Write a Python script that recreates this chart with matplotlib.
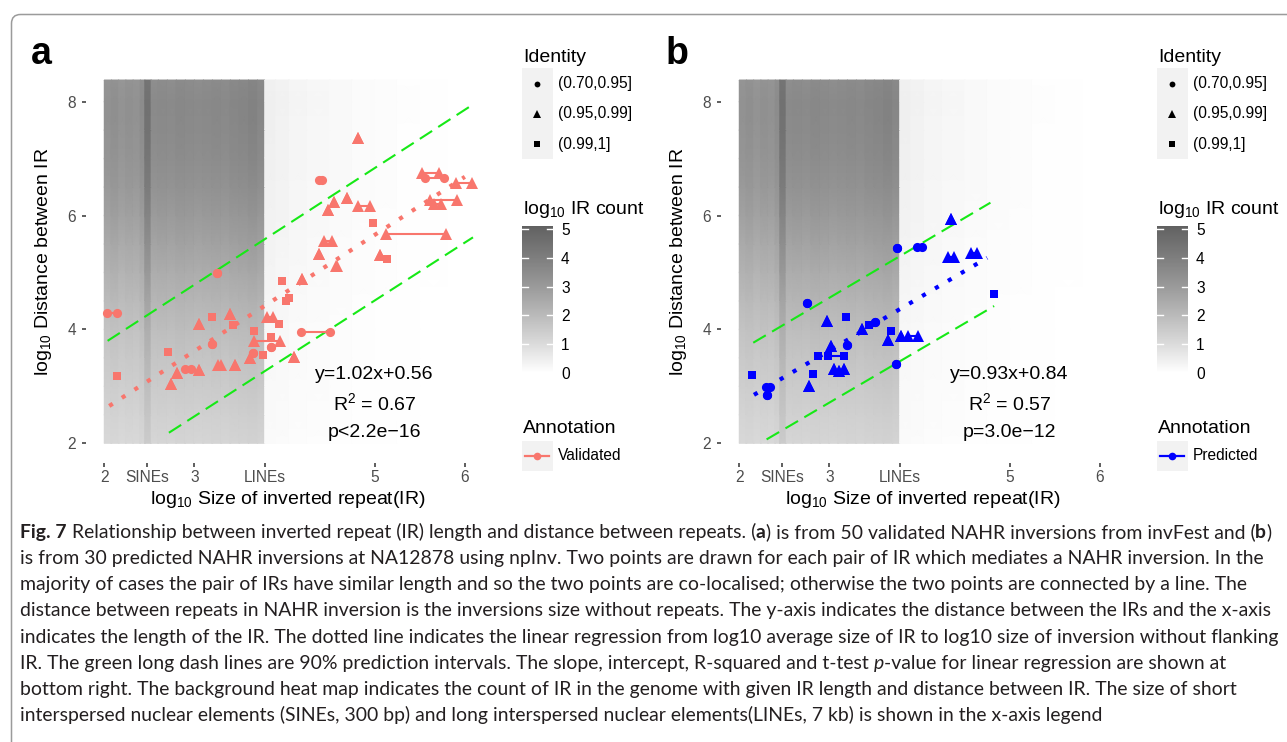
import matplotlib
matplotlib.use('Agg')
import matplotlib.pyplot as plt
import numpy as np
from matplotlib.colors import LinearSegmentedColormap
from matplotlib.patches import FancyBboxPatch, Rectangle

W, H = 1287, 742
plt.rcParams['font.family'] = ['Liberation Sans', 'DejaVu Sans']
plt.rcParams['mathtext.fontset'] = 'custom'
plt.rcParams['mathtext.rm'] = 'Liberation Sans'
plt.rcParams['mathtext.it'] = 'Liberation Sans:italic'
plt.rcParams['mathtext.bf'] = 'Liberation Sans:bold'

# ---------------- data ----------------
x_tick_pos = [2, 2.477, 3, 3.778, 5, 6]
x_tick_lab = ['2', 'SINEs', '3', 'LINEs', '5', '6']
y_ticks = [2, 4, 6, 8]

# background heat map (log10 IR count): column level at the top rows x row fade factor
heat_x_edges = [2.00, 2.08, 2.16, 2.24, 2.32, 2.40, 2.45, 2.52, 2.60, 2.70, 2.80, 2.90,
                3.00, 3.10, 3.20, 3.30, 3.40, 3.50, 3.60, 3.70, 3.78, 3.90, 4.05, 4.25,
                4.50, 4.75, 5.00, 5.25, 5.50, 5.80]
heat_col_level = [3.30, 3.40, 3.25, 3.35, 3.30, 3.50, 4.50, 3.55, 3.60, 3.55, 3.65, 3.60,
                  3.55, 3.60, 3.65, 3.60, 3.70, 3.75, 3.85, 3.70, 0.45, 0.38, 0.30, 0.24,
                  0.18, 0.13, 0.09, 0.06, 0.03]
heat_y_nodes = [2.0, 2.5, 3.0, 3.5, 4.0, 4.5, 5.0, 5.5, 6.0, 6.5, 7.0, 7.5, 8.0, 8.38]
heat_row_fade = [0.33, 0.37, 0.42, 0.47, 0.53, 0.60, 0.68, 0.76, 0.84, 0.91, 0.96, 0.99, 1.0, 0.97]
cbar_ticks = [0, 1, 2, 3, 4, 5]
cbar_gray = ['#ffffff', '#dbdbdb', '#bababa', '#9a9a9a', '#7e7e7e', '#646464']
VMAX = 5.1

identity_labels = ['(0.70,0.95]', '(0.95,0.99]', '(0.99,1]']

# panel a: validated (pair of IR: x1, x2 = log10 size of each IR, y = log10 distance)
a_x1 = [2.033, 2.144, 2.71, 2.735, 2.81, 2.90, 3.05, 3.05, 3.19, 3.245, 3.20, 3.26, 3.39, 3.43,
        3.45, 3.66, 3.656, 3.855, 3.645, 3.615, 3.76, 3.845, 3.81, 3.94, 3.975, 4.02, 4.05,
        4.11, 4.195, 4.177, 4.384, 4.44, 4.57, 4.477, 4.546, 4.694, 4.38, 4.816, 4.816,
        4.98, 5.064, 5.131, 5.12, 5.53, 5.563, 5.61, 5.655, 5.907]
a_x2 = [2.144, 2.144, 2.71, 2.735, 2.81, 2.96, 3.05, 3.05, 3.19, 3.245, 3.20, 3.30, 3.39, 3.43,
        3.45, 3.66, 3.948, 3.855, 3.645, 3.615, 3.76, 3.845, 3.874, 3.94, 3.975, 4.02, 4.05,
        4.11, 4.195, 4.502, 4.384, 4.53, 4.585, 4.477, 4.546, 4.694, 4.41, 4.816, 4.946,
        4.98, 5.064, 5.131, 5.796, 5.714, 5.766, 5.918, 5.733, 6.084]
a_y = [4.29, 3.19, 3.60, 3.04, 3.24, 3.30, 3.29, 4.09, 4.22, 5.00, 3.74, 3.37, 4.28, 4.07,
       3.37, 3.97, 3.80, 3.86, 3.58, 3.49, 3.56, 3.686, 4.21, 4.09, 4.85, 4.50, 4.56,
       3.52, 4.88, 3.95, 5.325, 5.553, 5.12, 6.10, 6.233, 6.31, 6.62, 7.357, 6.168,
       5.864, 5.30, 5.23, 5.676, 6.742, 6.66, 6.273, 6.20, 6.577]
a_shape = ['o', 's', 's', '^', '^', 'o', '^', '^', 's', 'o', 'o', '^', '^', 's',
           '^', 's', '^', 's', 'o', '^', 's', 'o', '^', 's', 's', 's', 's',
           '^', '^', 'o', '^', '^', '^', '^', '^', '^', 'o', '^', '^',
           's', '^', 's', '^', '^', 'o', '^', '^', '^']
a_fit = (1.02, 0.56)
a_fit_x = [2.055, 6.0]
a_pi_up = [(2.037, 3.80), (6.09, 7.95)]
a_pi_lo = [(2.717, 2.186), (6.09, 5.617)]
a_text = ['y=1.02x+0.56', 'R$^{2}$ = 0.67', 'p<2.2e\u221216']

# panel b: predicted
b_x1 = [2.144, 2.30, 2.304, 2.754, 2.77, 2.82, 2.969, 3.186, 3.02, 2.876, 2.987, 3.20, 3.05,
        3.105, 3.16, 3.357, 3.44, 3.51, 3.65, 3.68, 3.737, 3.79, 3.874, 3.75, 3.967, 4.344,
        4.318, 4.566, 4.827]
b_x2 = [2.144, 2.34, 2.304, 2.754, 2.77, 2.82, 2.969, 3.186, 3.02, 2.876, 3.157, 3.20, 3.05,
        3.105, 3.16, 3.357, 3.44, 3.51, 3.65, 3.68, 3.737, 3.79, 3.985, 3.75, 4.022, 4.344,
        4.381, 4.632, 4.827]
b_y = [3.194, 2.99, 2.855, 4.47, 3.01, 3.21, 4.153, 4.21, 3.71, 3.528, 3.528, 3.73, 3.30,
       3.264, 3.31, 4.01, 4.07, 4.13, 3.81, 3.97, 3.39, 3.89, 3.89, 5.425, 5.45, 5.94,
       5.277, 5.35, 4.617]
b_shape = ['s', 'o', 'o', 'o', '^', 's', '^', 's', '^', 's', 's', 'o', '^',
           '^', '^', '^', 's', 'o', '^', 's', 'o', '^', '^', 'o', 'o', '^',
           '^', '^', 's']
b_fit = (0.93, 0.84)
b_fit_x = [2.163, 4.75]
b_pi_up = [(2.155, 3.767), (4.786, 6.226)]
b_pi_lo = [(2.303, 2.069), (4.827, 4.411)]
b_text = ['y=0.93x+0.84', 'R$^{2}$ = 0.57', 'p=3.0e\u221212']

caption_lines = [
    [("Fig. 7", 'bold', 'normal'), (" Relationship between inverted repeat (IR) length and distance between repeats. (", 'normal', 'normal'),
     ("a", 'bold', 'normal'), (") is from 50 validated NAHR inversions from invFest and (", 'normal', 'normal'),
     ("b", 'bold', 'normal'), (")", 'normal', 'normal')],
    [("is from 30 predicted NAHR inversions at NA12878 using npInv. Two points are drawn for each pair of IR which mediates a NAHR inversion. In the", 'normal', 'normal')],
    [("majority of cases the pair of IRs have similar length and so the two points are co-localised; otherwise the two points are connected by a line. The", 'normal', 'normal')],
    [("distance between repeats in NAHR inversion is the inversions size without repeats. The y-axis indicates the distance between the IRs and the x-axis", 'normal', 'normal')],
    [("indicates the length of the IR. The dotted line indicates the linear regression from log10 average size of IR to log10 size of inversion without flanking", 'normal', 'normal')],
    [("IR. The green long dash lines are 90% prediction intervals. The slope, intercept, R-squared and t-test", 'normal', 'normal'),
     (" p", 'normal', 'italic'), ("-value for linear regression are shown at", 'normal', 'normal')],
    [("bottom right. The background heat map indicates the count of IR in the genome with given IR length and distance between IR. The size of short", 'normal', 'normal')],
    [("interspersed nuclear elements (SINEs, 300 bp) and long interspersed nuclear elements(LINEs, 7 kb) is shown in the x-axis legend", 'normal', 'normal')],
]

# ---------------- styles ----------------
SALMON = '#F8766D'
BLUE = '#0000FF'
GREEN = '#16e916'
CAP_FONT = ['Lato', 'DejaVu Sans']

fig = plt.figure(figsize=(W / 100, H / 100), dpi=100)


def px_axes(left, top, right, bottom, **kw):
    return fig.add_axes([left / W, 1 - bottom / H, (right - left) / W, (bottom - top) / H], **kw)


ov = px_axes(0, 0, W, H)
ov.set_xlim(0, W)
ov.set_ylim(H, 0)
ov.axis('off')
ov.patch.set_alpha(0)

cmap = LinearSegmentedColormap.from_list(
    'ircount', [(v / VMAX, c) for v, c in zip(cbar_ticks, cbar_gray)] + [(1.0, '#606060')])

# heat map grid (columns kept sharp, rows shaded smoothly)
xn, zc = [], []
for i, lev in enumerate(heat_col_level):
    xn += [heat_x_edges[i], heat_x_edges[i + 1] - 1e-4]
    zc += [lev, lev]
HX, HY = np.meshgrid(xn, heat_y_nodes)
HZ = np.outer(heat_row_fade, zc)

marker_ms = {'o': 6.6, '^': 8.2, 's': 6.2}


def draw_panel(ax, x1, x2, y, shp, color, fit, fit_x, pi_up, pi_lo, texts):
    mesh = ax.pcolormesh(HX, HY, HZ, shading='gouraud', cmap=cmap, vmin=0, vmax=VMAX, zorder=0)
    for p, q in (pi_up, pi_lo):
        ax.plot([p[0], q[0]], [p[1], q[1]], color=GREEN, lw=1.5, ls=(0, (7, 3.5)), zorder=2)
    fx = np.array(fit_x)
    ax.plot(fx, fit[0] * fx + fit[1], color=color, lw=3.0, ls=(0, (1, 2.6)), zorder=3)
    for a, b, c in zip(x1, x2, y):
        ax.plot([a, b], [c, c], color=color, lw=1.5, zorder=4, solid_capstyle='butt')
    for m in ['o', '^', 's']:
        xs = [v for v, s in zip(x1, shp) if s == m] + [v for v, s in zip(x2, shp) if s == m]
        ys = [v for v, s in zip(y, shp) if s == m] * 2
        ax.plot(xs, ys, ls='none', marker=m, ms=marker_ms[m], mew=0, color=color, zorder=5)
    for t, ty in zip(texts, [3.124, 2.585, 2.115]):
        ax.text(5.0, ty, t, fontsize=14, ha='center', va='baseline', color='black', zorder=6)
    ax.set_xlim(1.794, 6.29)
    ax.set_ylim(1.66, 8.7)
    for s in ax.spines.values():
        s.set_visible(False)
    ax.set_xticks(x_tick_pos, x_tick_lab)
    ax.set_yticks(y_ticks)
    ax.tick_params(axis='both', length=3, width=1.1, color='#333333', labelcolor='#4d4d4d', labelsize=11.2)
    ax.tick_params(axis='x', pad=2)
    ax.tick_params(axis='y', pad=4)
    ax.set_facecolor('white')
    return mesh


def draw_legend(dx, mesh, color, annot_label):
    ov.text(523.3 + dx, 61.5, 'Identity', fontsize=14, ha='left', va='baseline')
    ov.add_patch(Rectangle((521.7 + dx, 68.3), 31, 91, fc='#f2f2f2', ec='none'))
    for cy, m, ms, lab in zip([83.5, 113.8, 144.2], ['o', '^', 's'], [4.2, 5.2, 4.0], identity_labels):
        ov.plot([537.2 + dx], [cy], marker=m, ms=ms, mew=0, color='black', ls='none')
        ov.text(557.7 + dx, cy, lab, fontsize=11.2, ha='left', va='center')
    ov.text(523.3 + dx, 214.3, 'log$_{10}$ IR count', fontsize=14, ha='left', va='baseline')
    cax = px_axes(522.3 + dx, 226, 552.7 + dx, 373)
    cb = fig.colorbar(mesh, cax=cax)
    cb.outline.set_visible(False)
    cb.set_ticks(cbar_ticks)
    cax.tick_params(length=0, labelsize=11.2, pad=6, labelcolor='black')
    for v in cbar_ticks[1:]:
        cax.plot([0, 0.19], [v, v], transform=cax.get_yaxis_transform(), color='white', lw=1.0)
        cax.plot([0.81, 1], [v, v], transform=cax.get_yaxis_transform(), color='white', lw=1.0)
    ov.text(523.3 + dx, 433.3, 'Annotation', fontsize=14, ha='left', va='baseline')
    ov.add_patch(Rectangle((521.7 + dx, 440.7), 31, 30, fc='#f2f2f2', ec='none'))
    ov.plot([525.2 + dx, 549.2 + dx], [455.7, 455.7], color=color, lw=1.6)
    ov.plot([537.2 + dx], [455.7], marker='o', ms=5.5, mew=0, color=color)
    ov.text(557.7 + dx, 455.7, annot_label, fontsize=11.2, ha='left', va='center')


axa = px_axes(85.7, 61.8, 491, 462.7)
mesh_a = draw_panel(axa, a_x1, a_x2, a_y, a_shape, SALMON, a_fit, a_fit_x, a_pi_up, a_pi_lo, a_text)
axb = px_axes(720.7, 61.8, 1126, 462.7)
mesh_b = draw_panel(axb, b_x1, b_x2, b_y, b_shape, BLUE, b_fit, b_fit_x, b_pi_up, b_pi_lo, b_text)

draw_legend(0, mesh_a, SALMON, 'Validated')
draw_legend(635, mesh_b, BLUE, 'Predicted')

for dx, lab in [(0, 'a'), (635, 'b')]:
    ov.text(30.5 + dx, 63.5, lab, fontsize=27, fontweight='bold', ha='left', va='baseline')
    ov.text(43.3 + dx, 262, 'log$_{10}$ Distance between IR', fontsize=14, rotation=90,
            ha='center', va='center')
    ov.text(288.3 + dx, 504, 'log$_{10}$ Size of inverted repeat(IR)', fontsize=14,
            ha='center', va='baseline')

# frame around figure + caption
ov.add_patch(FancyBboxPatch((11.5, 14.5), 1400, 800, boxstyle='round,pad=0,rounding_size=9',
                            ec='#9b9b9b', fc='none', lw=1.1))

renderer = fig.canvas.get_renderer()


def text_width(s, weight, style, size):
    t = ov.text(0, 0, s, fontsize=size, fontweight=weight, fontstyle=style, family=CAP_FONT)
    w = t.get_window_extent(renderer).width
    t.remove()
    return w


def layout_line(segs, x0, y, size, draw=True):
    sp = text_width('a a', 'normal', 'normal', size) - text_width('aa', 'normal', 'normal', size)
    x = x0
    for s, weight, style in segs:
        if s.startswith(' '):
            x += sp
        core = s.strip()
        if draw:
            ov.text(x, y, core, fontsize=size, fontweight=weight, fontstyle=style,
                    family=CAP_FONT, color='#231f20', ha='left', va='baseline')
        x += text_width(core, weight, style, size)
        if s.endswith(' '):
            x += sp
    return x - x0


# fit caption size so the "indicates ... flanking" line spans 20 -> 1270 px as in the reference
size0 = 12.0
w0 = text_width(caption_lines[4][0][0], 'normal', 'normal', size0)
cap_size = size0 * 1250.0 / w0
for i, segs in enumerate(caption_lines):
    layout_line(segs, 20, 538 + 26.15 * i, cap_size)

fig.savefig('out.png', dpi=100)
